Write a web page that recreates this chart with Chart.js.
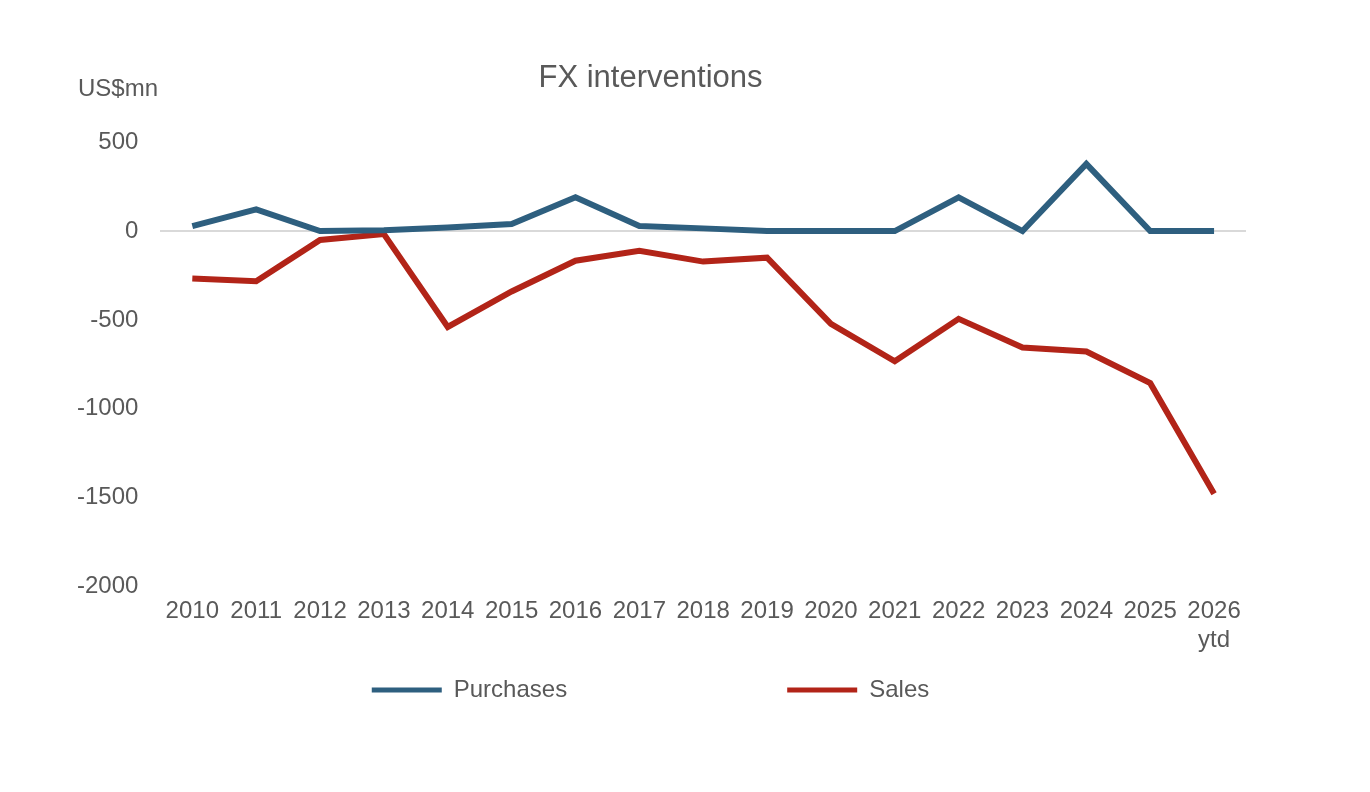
<!DOCTYPE html>
<html><head><meta charset="utf-8">
<script src="https://cdn.jsdelivr.net/npm/chart.js@4"></script>
<style>html,body{margin:0;background:#fff}#w{width:1370px;height:792px}</style>
</head><body><div id="w"><canvas id="c"></canvas></div>
<script>
const categories=["2010","2011","2012","2013","2014","2015","2016","2017","2018","2019","2020","2021","2022","2023","2024","2025",["2026","ytd"]];
const purchases=[28,122,0,5,20,40,190,28,15,0,0,0,190,0,378,0,0];
const sales=[-267,-283,-50,-17,-540,-340,-167,-111,-172,-150,-522,-733,-494,-656,-678,-856,-1478];
const FONT="'Liberation Sans Narrow','Liberation Sans',Arial,sans-serif";
const grey='#595959';
new Chart(document.getElementById('c'),{
type:'line',
data:{labels:categories,datasets:[
{label:'Purchases',data:purchases,borderColor:'#2e5f7f',backgroundColor:'#2e5f7f',borderWidth:6,pointRadius:0,tension:0},
{label:'Sales',data:sales,borderColor:'#b22418',backgroundColor:'#b22418',borderWidth:6,pointRadius:0,tension:0}]},
options:{responsive:true,maintainAspectRatio:false,animation:false,
layout:{padding:{left:55,right:124,top:60,bottom:80}},
plugins:{
title:{display:true,text:'FX interventions',color:grey,font:{family:FONT,size:31,weight:'normal'},padding:{bottom:45}},
legend:{position:'bottom',labels:{color:grey,font:{family:FONT,size:24},boxWidth:70,boxHeight:5,padding:20,
generateLabels:(ch)=>ch.data.datasets.map((d,i)=>({text:d.label+(i?'':' '.repeat(30)),fillStyle:d.borderColor,strokeStyle:d.borderColor,lineWidth:0,datasetIndex:i,fontColor:grey}))}},
tooltip:{enabled:false}},
scales:{
x:{offset:true,grid:{display:false},border:{display:false},ticks:{color:grey,font:{family:FONT,size:24},maxRotation:0,autoSkip:false}},
y:{min:-2000,max:500,ticks:{stepSize:500,color:grey,font:{family:FONT,size:24},padding:22,callback:v=>String(v)},
border:{display:false},grid:{drawTicks:false,color:c=>c.tick.value===0?'#d9d9d9':'transparent',lineWidth:2}}}},
plugins:[{id:'unit',afterDraw(ch){const x=ch.ctx;x.save();x.fillStyle=grey;x.font='24px '+FONT;x.textAlign='left';x.textBaseline='middle';x.fillText('US$mn',78,89);x.restore();}}]
});
</script></body></html>
